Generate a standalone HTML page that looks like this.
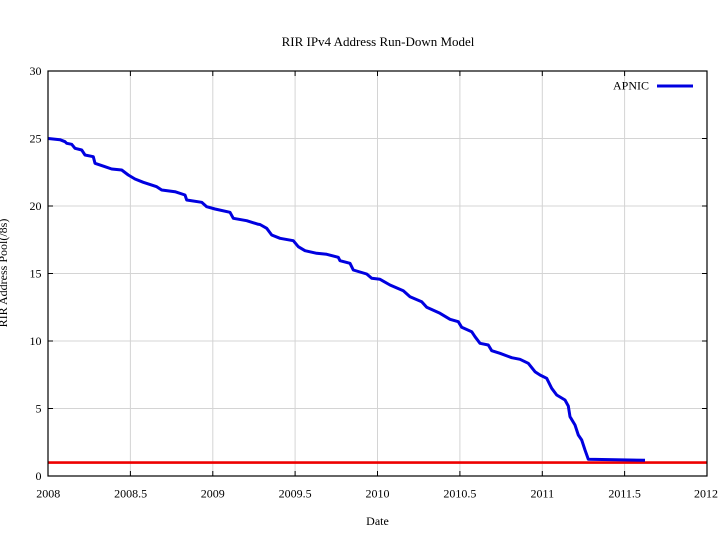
<!DOCTYPE html>
<html>
<head>
<meta charset="utf-8">
<style>
  html,body{margin:0;padding:0;background:#fff;}
  svg{display:block;}
  text{font-family:"Liberation Serif","Times New Roman",serif;fill:#000;}
</style>
</head>
<body>
<svg width="720" height="540" viewBox="0 0 720 540" xmlns="http://www.w3.org/2000/svg">
  <rect x="0" y="0" width="720" height="540" fill="#fff"/>
  <!-- grid -->
  <g stroke="#d4d4d4" stroke-width="1">
    <line x1="130.4" y1="71" x2="130.4" y2="476"/>
    <line x1="212.8" y1="71" x2="212.8" y2="476"/>
    <line x1="295.1" y1="71" x2="295.1" y2="476"/>
    <line x1="377.5" y1="71" x2="377.5" y2="476"/>
    <line x1="459.9" y1="71" x2="459.9" y2="476"/>
    <line x1="542.3" y1="71" x2="542.3" y2="476"/>
    <line x1="624.6" y1="71" x2="624.6" y2="476"/>
    <line x1="48" y1="408.5" x2="707" y2="408.5"/>
    <line x1="48" y1="341" x2="707" y2="341"/>
    <line x1="48" y1="273.5" x2="707" y2="273.5"/>
    <line x1="48" y1="206" x2="707" y2="206"/>
    <line x1="48" y1="138.5" x2="707" y2="138.5"/>
  </g>
  <!-- ticks -->
  <g stroke="#000" stroke-width="1">
    <path d="M130.4,476v-5M212.8,476v-5M295.1,476v-5M377.5,476v-5M459.9,476v-5M542.3,476v-5M624.6,476v-5"/>
    <path d="M130.4,71v5M212.8,71v5M295.1,71v5M377.5,71v5M459.9,71v5M542.3,71v5M624.6,71v5"/>
    <path d="M48,408.5h5M48,341h5M48,273.5h5M48,206h5M48,138.5h5"/>
    <path d="M707,408.5h-5M707,341h-5M707,273.5h-5M707,206h-5M707,138.5h-5"/>
  </g>
  <!-- red line -->
  <line x1="48" y1="462.6" x2="707" y2="462.6" stroke="#ee0000" stroke-width="2.6"/>
  <!-- blue series -->
  <polyline fill="none" stroke="#0000e0" stroke-width="3" stroke-linejoin="round" points="
48.3,138.5 60,139.7 65,141.7 66.7,143.3 71.7,144.3 75,148.3 81.7,150 85,155 93.3,156.7 95,163.3
105,166.7 111.7,169 121.7,170 128.3,175 135,179 143.3,182.3 156.7,186.7 161.7,190 175,191.7 185,195
186.7,200 201.7,202.3 206.7,206.7 215,209 230,212.3 233.3,218.3 246.7,220.7 258.3,224.3 260,224.5
266.7,228.3 271.7,235 280,238.3 293.3,240.7 298.3,246.7 305,250.7 316.7,253.3 326.7,254.3 338.3,257.3
340,260.7 350,263.3 353.3,270 366.7,274 371.7,278.3 380,279.3 390,285 403.3,290.7 410,296.7 421.7,301.7
426.7,307.3 440,313.3 450,319.3 458.3,321.7 461.7,327.3 471.7,331.7 475,336.7 480,343.3 488.3,345
491.7,350.7 500,353.3 511.7,357.7 520,359.3 528.3,363.3 535,371.7 540,375 546.7,378.3 551.7,388.3
556.7,395 565,400 568.3,406 570,416.7 575,425 578.3,435 581.7,440 585,450 588.3,459.3 645,460.3"/>
  <!-- border -->
  <rect x="48" y="71" width="659" height="405" fill="none" stroke="#000" stroke-width="1.2"/>
  <!-- y tick labels -->
  <g font-size="12" text-anchor="end">
    <text x="41.5" y="480">0</text>
    <text x="41.5" y="412.5">5</text>
    <text x="41.5" y="345">10</text>
    <text x="41.5" y="277.5">15</text>
    <text x="41.5" y="210">20</text>
    <text x="41.5" y="142.5">25</text>
    <text x="41.5" y="75">30</text>
  </g>
  <!-- x tick labels -->
  <g font-size="12" text-anchor="middle">
    <text x="48.3" y="497.5">2008</text>
    <text x="130.6" y="497.5">2008.5</text>
    <text x="212.8" y="497.5">2009</text>
    <text x="295.1" y="497.5">2009.5</text>
    <text x="377.5" y="497.5">2010</text>
    <text x="459.9" y="497.5">2010.5</text>
    <text x="542.3" y="497.5">2011</text>
    <text x="624.6" y="497.5">2011.5</text>
    <text x="706" y="497.5">2012</text>
  </g>
  <!-- title & labels -->
  <text x="378" y="46" font-size="13" text-anchor="middle">RIR IPv4 Address Run-Down Model</text>
  <text x="377.5" y="525" font-size="12" text-anchor="middle">Date</text>
  <text transform="translate(7,273) rotate(-90)" font-size="12" text-anchor="middle">RIR Address Pool(/8s)</text>
  <!-- legend -->
  <text x="649" y="89.5" font-size="12" text-anchor="end">APNIC</text>
  <line x1="657" y1="86" x2="693" y2="86" stroke="#0000e0" stroke-width="3"/>
</svg>
</body>
</html>
